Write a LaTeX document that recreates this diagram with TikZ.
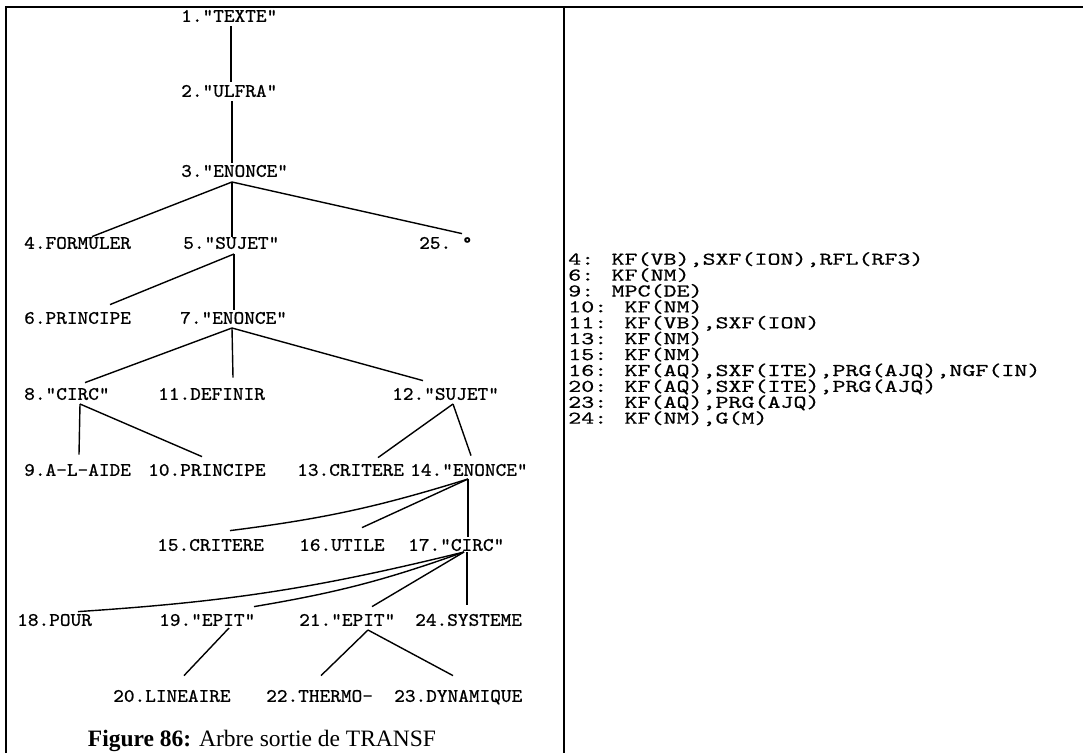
\documentclass[tikz,border=0pt]{standalone}
\usepackage{fontspec}
\usepackage{tikz}
\newfontfamily\capfont{Liberation Serif}
\newfontfamily\treefont{lmmono10-regular.otf}[FakeBold=0.8]
\newfontfamily\codefont{lmmono10-regular.otf}[FakeBold=0.5]

\begin{document}
\begin{tikzpicture}[x=1pt, y=-1pt,
  every node/.style={inner sep=0pt},
  lab/.style={anchor=south west, font=\treefont\fontsize{19}{19}\selectfont, text height=11pt, text depth=0pt, xscale=1.07, transform shape},
  edge/.style={line width=1.4pt},
  frame/.style={line width=2pt}]
  \useasboundingbox (0,0) rectangle (1083,753);
  % table rules
  \draw[frame] (6,753) -- (6,7) -- (1083,7);
  \draw[frame] (564,7) -- (564,753);

  % tree labels
  \node[lab] (n1) at (181,22) {1."TEXTE"};
  \node[lab] (n2) at (181,97) {2."ULFRA"};
  \node[lab] (n3) at (181,177) {3."ENONCE"};
  \node[lab] (n4) at (24,249) {4.FORMULER};
  \node[lab] (n5) at (183,249) {5."SUJET"};
  \node[lab] (n25) at (419,249) {25.~°};
  \node[lab] (n6) at (24,324) {6.PRINCIPE};
  \node[lab] (n7) at (180,324) {7."ENONCE"};
  \node[lab] (n8) at (24,400) {8."CIRC"};
  \node[lab] (n11) at (158,400) {11.DEFINIR};
  \node[lab] (n12) at (392,400) {12."SUJET"};
  \node[lab] (n9) at (24,476) {9.A-L-AIDE};
  \node[lab] (n10) at (148,476) {10.PRINCIPE};
  \node[lab] (n13) at (297,476) {13.CRITERE};
  \node[lab] (n14) at (410,476) {14."ENONCE"};
  \node[lab] (n15) at (157,551) {15.CRITERE};
  \node[lab] (n16) at (299,551) {16.UTILE};
  \node[lab] (n17) at (408,551) {17."CIRC"};
  \node[lab] (n18) at (17,626) {18.POUR};
  \node[lab] (n19) at (159,626) {19."EPIT"};
  \node[lab] (n21) at (299,626) {21."EPIT"};
  \node[lab] (n24) at (415,626) {24.SYSTEME};
  \node[lab] (n20) at (113,702) {20.LINEAIRE};
  \node[lab] (n22) at (266,702) {22.THERMO-};
  \node[lab] (n23) at (394,702) {23.DYNAMIQUE};

  % feet of the branches
  \coordinate (f1) at ([xshift=50pt,yshift=-4pt]n1.south west);
  \coordinate (f2) at ([xshift=51pt,yshift=-4pt]n2.south west);
  \coordinate (f3) at ([xshift=51pt,yshift=-5pt]n3.south west);
  \coordinate (f5) at ([xshift=51pt,yshift=-5pt]n5.south west);
  \coordinate (f7) at ([xshift=52pt,yshift=-4pt]n7.south west);
  \coordinate (f8) at ([xshift=56pt,yshift=-4pt]n8.south west);
  \coordinate (f12) at ([xshift=61pt,yshift=-4pt]n12.south west);
  \coordinate (f14) at ([xshift=58pt,yshift=-3pt]n14.south west);
  \coordinate (f17) at ([xshift=56pt,yshift=-1pt]n17.south west);
  \coordinate (f19) at ([xshift=70pt,yshift=-2pt]n19.south west);
  \coordinate (f21) at ([xshift=69pt,yshift=-4pt]n21.south west);

  \draw[edge] (f1) -- ([xshift=50pt,yshift=4pt]n2.north west);
  \draw[edge] (f2) -- ([xshift=51pt,yshift=3pt]n3.north west);
  \draw[edge] (f3) -- ([xshift=68pt,yshift=1pt]n4.north west);
  \draw[edge] (f3) -- ([xshift=49pt,yshift=1pt]n5.north west);
  \draw[edge] (f3) -- ([xshift=43pt,yshift=4pt]n25.north west);
  \draw[edge] (f5) -- ([xshift=86pt,yshift=8pt]n6.north west);
  \draw[edge] (f5) -- ([xshift=54pt,yshift=3pt]n7.north west);
  \draw[edge] (f7) -- ([xshift=61pt,yshift=6pt]n8.north west);
  \draw[edge] (f7) -- ([xshift=75pt,yshift=11pt]n11.north west);
  \draw[edge] (f7) -- ([xshift=31pt,yshift=8pt]n12.north west);
  \draw[edge] (f8) -- ([xshift=55pt,yshift=10pt]n9.north west);
  \draw[edge] (f8) -- ([xshift=54pt,yshift=8pt]n10.north west);
  \draw[edge] (f12) -- ([xshift=81pt,yshift=7pt]n13.north west);
  \draw[edge] (f12) -- ([xshift=61pt,yshift=9pt]n14.north west);
  \draw[edge] (f14) to[bend left=5] ([xshift=73pt,yshift=9pt]n15.north west);
  \draw[edge] (f14) -- ([xshift=63pt,yshift=12pt]n16.north west);
  \draw[edge] (f14) -- ([xshift=60pt,yshift=3pt]n17.north west);
  \draw[edge] (f17) to[bend left=5] ([xshift=61pt,yshift=3pt]n18.north west);
  \draw[edge] (f17) to[bend left=5] ([xshift=95pt,yshift=8pt]n19.north west);
  \draw[edge] (f17) -- ([xshift=73pt,yshift=8pt]n21.north west);
  \draw[edge] ([xshift=3pt]f17) -- ([xshift=52pt,yshift=10pt]n24.north west);
  \draw[edge] (f19) -- ([xshift=71pt,yshift=15pt]n20.north west);
  \draw[edge] (f21) -- ([xshift=55pt,yshift=15pt]n22.north west);
  \draw[edge] (f21) -- ([xshift=59pt,yshift=15pt]n23.north west);

  \node[anchor=base, font=\capfont\fontsize{23.5}{23.5}\selectfont] (cap) at (262,746)
    {\textbf{Figure 86:} Arbre sortie de TRANSF};

  % feature list
  \node[anchor=north west, align=left, font=\codefont\fontsize{18}{15.9}\selectfont,
    xscale=1.375, transform shape] (codes) at (568,252)
    {4: KF(VB),SXF(ION),RFL(RF3)\\
     6: KF(NM)\\
     9: MPC(DE)\\
     10: KF(NM)\\
     11: KF(VB),SXF(ION)\\
     13: KF(NM)\\
     15: KF(NM)\\
     16: KF(AQ),SXF(ITE),PRG(AJQ),NGF(IN)\\
     20: KF(AQ),SXF(ITE),PRG(AJQ)\\
     23: KF(AQ),PRG(AJQ)\\
     24: KF(NM),G(M)};
\end{tikzpicture}
\end{document}
